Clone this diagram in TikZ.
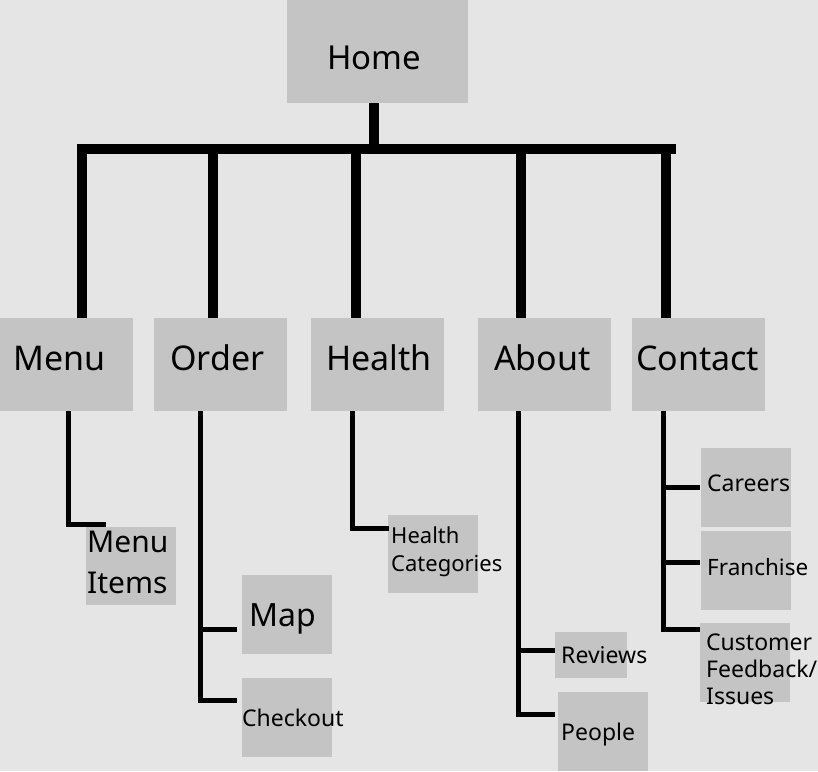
\documentclass[tikz,border=0pt]{standalone}
\usepackage{fontspec}
\setmainfont{Noto Sans}
\definecolor{bgc}{HTML}{E5E5E5}
\definecolor{boxc}{HTML}{C4C4C4}
\begin{document}
\begin{tikzpicture}[x=1pt,y=-1pt,
  box/.style={fill=boxc,draw=none,inner sep=0pt},
  lbl/.style={inner sep=0pt,anchor=base west,text=black},
  mlbl/.style={inner sep=0pt,anchor=north west,text=black,align=left},
  tree/.style={line width=9.5pt,black},
  sub/.style={line width=5pt,black,line join=miter}]
\fill[bgc] (0,0) rectangle (818,771);
\useasboundingbox (0,0) rectangle (818,771);
% boxes
\node[box,minimum width=181pt,minimum height=103pt] (home) at (377.5,51.5) {};
\node[box,minimum width=133pt,minimum height=93pt] (menu) at (66.5,364.5) {};
\node[box,minimum width=133pt,minimum height=93pt] (order) at (220.5,364.5) {};
\node[box,minimum width=133pt,minimum height=93pt] (health) at (377.5,364.5) {};
\node[box,minimum width=133pt,minimum height=93pt] (about) at (544.5,364.5) {};
\node[box,minimum width=133pt,minimum height=93pt] (contact) at (698.5,364.5) {};
\node[box,minimum width=90pt,minimum height=78pt] (menuitems) at (131,566) {};
\node[box,minimum width=90pt,minimum height=79pt] (map) at (287,614.5) {};
\node[box,minimum width=90pt,minimum height=79pt] (checkout) at (287,717.5) {};
\node[box,minimum width=90pt,minimum height=78pt] (healthcat) at (433,554) {};
\node[box,minimum width=72pt,minimum height=46pt] (reviews) at (591,655) {};
\node[box,minimum width=90pt,minimum height=79pt] (people) at (603,731.5) {};
\node[box,minimum width=90pt,minimum height=79pt] (careers) at (746,487.5) {};
\node[box,minimum width=90pt,minimum height=79pt] (franchise) at (746,570.5) {};
\node[box,minimum width=90pt,minimum height=79pt] (customer) at (745,662.5) {};
% labels
\node[lbl,font=\fontsize{33}{40}\selectfont] (homet) at (327,69) {Home};
\node[lbl,font=\fontsize{34}{40}\selectfont] (menut) at (13,370) {Menu};
\node[lbl,font=\fontsize{34}{40}\selectfont] (ordert) at (170,370) {Order};
\node[lbl,font=\fontsize{34}{40}\selectfont] (healtht) at (326,370) {Health};
\node[lbl,font=\fontsize{34}{40}\selectfont] (aboutt) at (494,370) {About};
\node[lbl,font=\fontsize{34}{40}\selectfont] (contactt) at (636,370) {Contact};
\node[mlbl,font=\fontsize{30}{41}\selectfont] (menuitemst) at (87,530.6) {Menu\\Items};
\node[lbl,font=\fontsize{32}{38}\selectfont] (mapt) at (249,626) {Map};
\node[lbl,font=\fontsize{23}{28}\selectfont] (checkoutt) at (242,726) {Checkout};
\node[mlbl,font=\fontsize{22}{28}\selectfont] (healthcatt) at (391,526.3) {Health\\Categories};
\node[lbl,font=\fontsize{23}{28}\selectfont] (reviewst) at (561,663) {Reviews};
\node[lbl,font=\fontsize{23}{28}\selectfont] (peoplet) at (561,740) {People};
\node[lbl,font=\fontsize{23}{28}\selectfont] (careerst) at (707,491) {Careers};
\node[lbl,font=\fontsize{22.5}{28}\selectfont] (franchiset) at (707,575) {Franchise};
\node[mlbl,font=\fontsize{23}{27}\selectfont] (customert) at (706,633.4) {Customer\\Feedback/\\Issues};
% main tree
\coordinate (barL) at (77,149);
\coordinate (barR) at (676,149);
\draw[tree] (barL) -- (barR);
\draw[tree] ([xshift=-3.5pt]home.south) -- ([xshift=-3.5pt]home.south |- barL);
\draw[tree] ([xshift=15.5pt]menu.north) -- ([xshift=15.5pt]menu.north |- barL);
\draw[tree] ([xshift=-7.5pt]order.north) -- ([xshift=-7.5pt]order.north |- barL);
\draw[tree] ([xshift=-21.5pt]health.north) -- ([xshift=-21.5pt]health.north |- barL);
\draw[tree] ([xshift=-23.5pt]about.north) -- ([xshift=-23.5pt]about.north |- barL);
\draw[tree] ([xshift=-32.5pt]contact.north) -- ([xshift=-32.5pt]contact.north |- barL);
% branch end points
\coordinate (mapE) at ([xshift=-5pt,yshift=-15pt]map.west);
\coordinate (revE) at ([yshift=4.5pt]reviews.west);
\coordinate (carE) at ([xshift=-1pt]careers.west);
\coordinate (fraE) at ([xshift=-1pt,yshift=8pt]franchise.west);
\coordinate (orderT) at ([xshift=-20pt]order.south);
\coordinate (aboutT) at ([xshift=-26pt]about.south);
\coordinate (contactT) at ([xshift=-35pt]contact.south);
\coordinate (contactT2) at ([xshift=-38pt]contact.south);
% sub trees
\draw[sub] ([xshift=2pt]menu.south) |- ([xshift=20pt,yshift=2pt]menuitems.north west);
\draw[sub] (orderT) |- ([xshift=-5pt,yshift=17pt]checkout.west);
\draw[sub] (orderT |- mapE) -- (mapE);
\draw[sub] ([xshift=-25pt]health.south) |- ([xshift=1pt,yshift=26pt]healthcat.west);
\draw[sub] (aboutT) |- ([xshift=-3pt,yshift=17pt]people.west);
\draw[sub] (aboutT |- revE) -- (revE);
\draw[sub] (contactT) |- ([yshift=33pt]customer.west);
\draw[sub] (contactT |- carE) -- (carE);
\draw[sub] (contactT2 |- fraE) -- (fraE);
\end{tikzpicture}
\end{document}
